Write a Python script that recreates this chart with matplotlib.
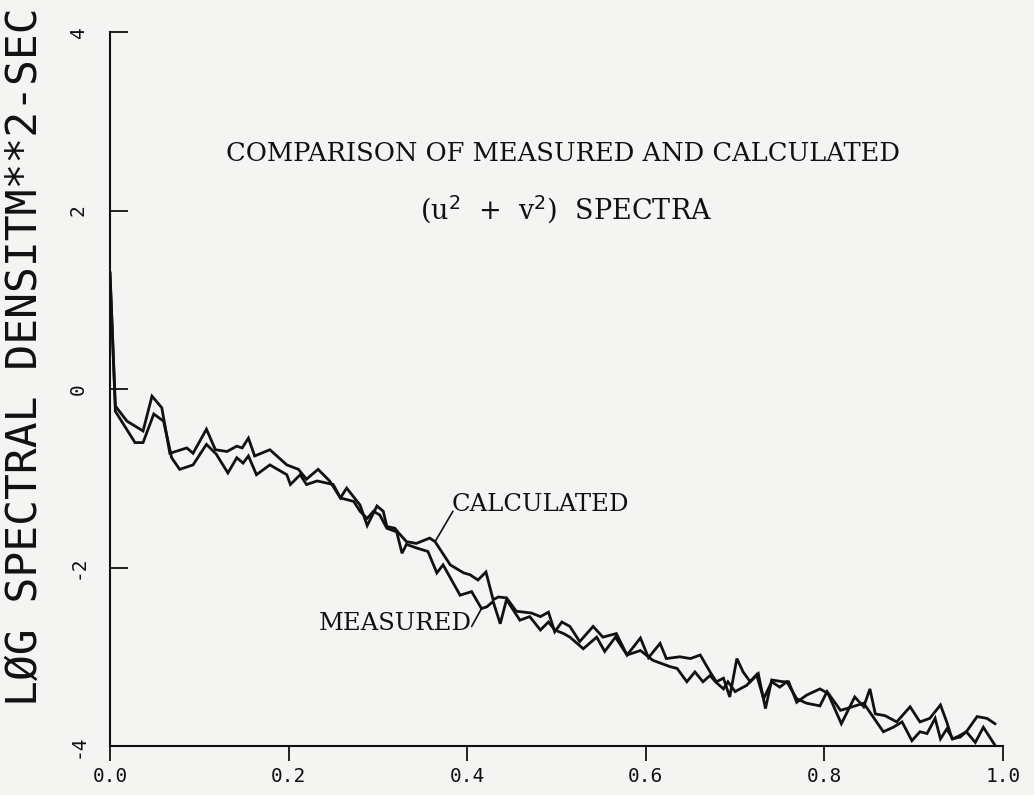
import numpy as np
import matplotlib.pyplot as plt

# Спектри (u^2 + v^2): виміряний та розрахований
calc_x = [0.000, 0.006, 0.019, 0.037, 0.047, 0.058, 0.067, 0.086, 0.093, 0.108,
          0.118, 0.131, 0.142, 0.148, 0.155, 0.162, 0.179, 0.198, 0.211, 0.220,
          0.233, 0.246, 0.258, 0.265, 0.280, 0.288, 0.299, 0.306, 0.310, 0.319,
          0.323, 0.332, 0.343, 0.358, 0.364, 0.381, 0.396, 0.403, 0.412, 0.421,
          0.429, 0.435, 0.444, 0.455, 0.472, 0.482, 0.491, 0.498, 0.506, 0.515,
          0.526, 0.541, 0.552, 0.567, 0.579, 0.594, 0.603, 0.616, 0.623, 0.638,
          0.650, 0.661, 0.672, 0.679, 0.687, 0.694, 0.702, 0.709, 0.717, 0.726,
          0.734, 0.741, 0.754, 0.760, 0.769, 0.780, 0.795, 0.804, 0.819, 0.834,
          0.844, 0.851, 0.857, 0.868, 0.881, 0.896, 0.907, 0.918, 0.930, 0.937,
          0.943, 0.952, 0.959, 0.969, 0.978, 0.991]
calc_y = [1.30, -0.19, -0.36, -0.47, -0.08, -0.21, -0.72, -0.66, -0.72, -0.45,
          -0.68, -0.70, -0.64, -0.66, -0.55, -0.75, -0.68, -0.85, -0.90, -1.01,
          -0.90, -1.03, -1.22, -1.11, -1.30, -1.53, -1.31, -1.37, -1.54, -1.56,
          -1.61, -1.71, -1.73, -1.67, -1.71, -1.97, -2.06, -2.08, -2.14, -2.05,
          -2.36, -2.33, -2.34, -2.49, -2.51, -2.55, -2.50, -2.72, -2.61, -2.66,
          -2.83, -2.66, -2.78, -2.74, -2.98, -2.79, -3.01, -2.85, -3.02, -3.00,
          -3.02, -2.98, -3.17, -3.28, -3.24, -3.45, -3.02, -3.17, -3.28, -3.19,
          -3.58, -3.26, -3.28, -3.28, -3.51, -3.43, -3.36, -3.41, -3.75, -3.45,
          -3.56, -3.36, -3.64, -3.66, -3.73, -3.56, -3.73, -3.69, -3.54, -3.73,
          -3.92, -3.90, -3.84, -3.96, -3.79, -3.99]

meas_x = [0.000, 0.006, 0.028, 0.037, 0.049, 0.060, 0.069, 0.078, 0.093, 0.108,
          0.119, 0.132, 0.142, 0.149, 0.155, 0.164, 0.179, 0.198, 0.202, 0.213,
          0.220, 0.232, 0.250, 0.258, 0.273, 0.280, 0.288, 0.295, 0.302, 0.310,
          0.321, 0.327, 0.332, 0.343, 0.356, 0.366, 0.373, 0.392, 0.405, 0.416,
          0.422, 0.429, 0.437, 0.444, 0.459, 0.470, 0.482, 0.491, 0.498, 0.508,
          0.515, 0.530, 0.545, 0.554, 0.566, 0.579, 0.594, 0.608, 0.627, 0.635,
          0.646, 0.655, 0.664, 0.672, 0.678, 0.687, 0.692, 0.700, 0.713, 0.724,
          0.732, 0.741, 0.750, 0.758, 0.769, 0.780, 0.795, 0.803, 0.818, 0.825,
          0.844, 0.866, 0.877, 0.887, 0.898, 0.907, 0.915, 0.924, 0.930, 0.937,
          0.944, 0.952, 0.959, 0.971, 0.982, 0.991]
meas_y = [1.30, -0.25, -0.60, -0.60, -0.28, -0.36, -0.77, -0.90, -0.85, -0.62,
          -0.73, -0.94, -0.77, -0.83, -0.75, -0.96, -0.85, -0.96, -1.07, -0.96,
          -1.07, -1.03, -1.07, -1.22, -1.26, -1.37, -1.45, -1.37, -1.41, -1.56,
          -1.60, -1.84, -1.74, -1.78, -1.82, -2.06, -1.97, -2.31, -2.27, -2.46,
          -2.44, -2.38, -2.63, -2.36, -2.59, -2.55, -2.70, -2.61, -2.70, -2.74,
          -2.78, -2.91, -2.78, -2.94, -2.78, -2.98, -2.93, -3.04, -3.11, -3.13,
          -3.28, -3.17, -3.28, -3.21, -3.28, -3.36, -3.28, -3.39, -3.32, -3.20,
          -3.47, -3.28, -3.34, -3.28, -3.47, -3.52, -3.55, -3.39, -3.60, -3.58,
          -3.52, -3.84, -3.79, -3.73, -3.94, -3.84, -3.86, -3.69, -3.92, -3.81,
          -3.92, -3.88, -3.84, -3.67, -3.69, -3.75]

x_ticks = [0.0, 0.2, 0.4, 0.6, 0.8, 1.0]
x_labels = ['0.0', '0.2', '0.4', '0.6', '0.8', '1.0']
y_ticks = [-4, -2, 0, 2, 4]
y_labels = ['-4', '-2', '0', '2', '4']

# точки на кривих, куди ведуть підписи
calc_mark = 34
meas_mark = 39

paper = '#f4f4f2'
ink = '#111111'

fig = plt.figure(figsize=(10.34, 7.95), dpi=100, facecolor=paper)
ax = fig.add_axes([0.1064, 0.0616, 0.8636, 0.8981])
ax.set_facecolor(paper)

ax.plot(meas_x, meas_y, color=ink, lw=2.0, solid_joinstyle='miter')
ax.plot(calc_x, calc_y, color=ink, lw=2.0, solid_joinstyle='miter')

ax.set_xlim(0, 1.0)
ax.set_ylim(-4, 4)

for side in ['top', 'right']:
    ax.spines[side].set_visible(False)
for side in ['left', 'bottom']:
    ax.spines[side].set_linewidth(1.5)
    ax.spines[side].set_color(ink)

mono = 'DejaVu Sans Mono'
ax.set_xticks(x_ticks)
ax.set_xticklabels(x_labels, family=mono, fontsize=14, color=ink)
ax.set_yticks(y_ticks)
ax.set_yticklabels(y_labels, family=mono, fontsize=14, color=ink,
                   rotation=90, va='center')
ax.tick_params(axis='x', direction='out', length=11, width=1.3, pad=4, colors=ink)
ax.tick_params(axis='y', direction='in', length=13, width=1.3, pad=16, colors=ink)

fig.text(25 / 1034, 0.551, 'LØG SPECTRAL DENSITM**2-SEC', family=mono,
         fontsize=31, rotation=90, ha='center', va='center', color=ink)

# Заголовок друкарським шрифтом
typer = 'DejaVu Serif'
fig.text(563 / 1034, 0.8075, 'COMPARISON OF MEASURED AND CALCULATED',
         family=typer, fontsize=18.5, ha='center', va='center', color=ink)
fig.text(566 / 1034, 0.736, r'(u$^2$  +  v$^2$)  SPECTRA',
         family=typer, fontsize=19.5, ha='center', va='center', color=ink)

ax.text(0.383, -1.29, 'CALCULATED', family=typer, fontsize=17.5,
        ha='left', va='center', color=ink)
ax.annotate('', xy=(calc_x[calc_mark], calc_y[calc_mark]), xytext=(0.384, -1.37),
            arrowprops=dict(arrowstyle='-', color=ink, lw=1.2, shrinkA=0, shrinkB=0))

ax.text(0.405, -2.63, 'MEASURED', family=typer, fontsize=17.5,
        ha='right', va='center', color=ink)
ax.annotate('', xy=(meas_x[meas_mark], meas_y[meas_mark]), xytext=(0.405, -2.66),
            arrowprops=dict(arrowstyle='-', color=ink, lw=1.2, shrinkA=0, shrinkB=0))

fig.savefig('out.png', dpi=100, facecolor=paper)
